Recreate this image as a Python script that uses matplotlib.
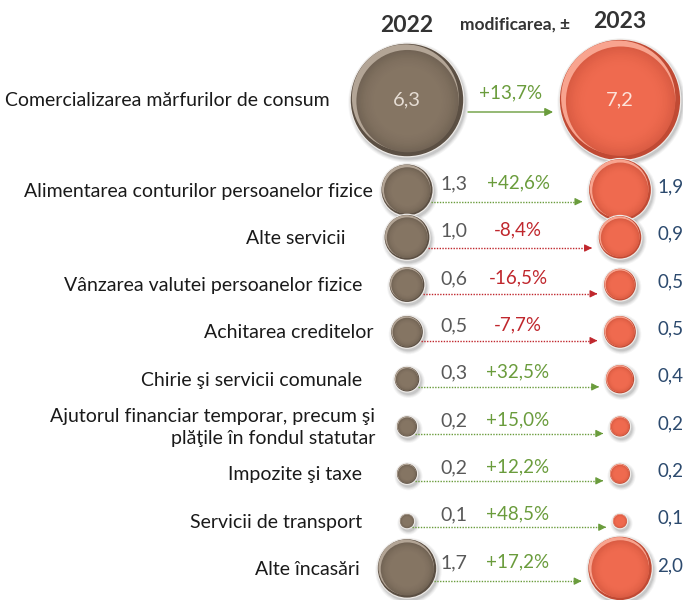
import matplotlib
matplotlib.use('Agg')
import matplotlib.pyplot as plt
from matplotlib.patches import Circle
import numpy as np

plt.rcParams['font.family'] = ['Lato', 'DejaVu Sans']

# data
categories = ['Comercializarea mărfurilor de consum',
              'Alimentarea conturilor persoanelor fizice',
              'Alte servicii',
              'Vânzarea valutei persoanelor fizice',
              'Achitarea creditelor',
              'Chirie şi servicii comunale',
              'Ajutorul financiar temporar, precum şi\nplăţile în fondul statutar',
              'Impozite şi taxe',
              'Servicii de transport',
              'Alte încasări']
val_2022 = [6.3, 1.3, 1.0, 0.6, 0.5, 0.3, 0.2, 0.2, 0.1, 1.7]
val_2023 = [7.2, 1.9, 0.9, 0.5, 0.5, 0.4, 0.2, 0.2, 0.1, 2.0]
change = [13.7, 42.6, -8.4, -16.5, -7.7, 32.5, 15.0, 12.2, 48.5, 17.2]

# colours
brown = ('#857563', '#5b4f43', '#b3a596')
red = ('#ef6a4f', '#c04a34', '#f8a48f')
green = '#6a9c3c'
darkred = '#c0272d'
grey_txt = '#595959'
blue_txt = '#2c4a6e'

# layout (pixels)
x22, x23 = 407, 620
row_y = [100] + list(190 + 47.3 * np.arange(9))
label_right = [330, 373, 345, 362, 373, 362, 375, 362, 362, 360]
k = 22.4  # radius per sqrt(value)

fig = plt.figure(figsize=(6.83, 6.0), dpi=100)
ax = fig.add_axes([0, 0, 1, 1])
ax.set_xlim(0, 683)
ax.set_ylim(600, 0)
ax.axis('off')


def bubble(x, y, r, col):
    base, dark, light = col
    for i, a in enumerate([0.05, 0.07, 0.09, 0.11]):
        ax.add_patch(Circle((x + 1.5, y + 2.5), r + 4 - i, color='#404040', alpha=a, lw=0, zorder=2))
    ax.add_patch(Circle((x, y), r + 1.2, color='#eeebe8', lw=0, zorder=3))
    ax.add_patch(Circle((x, y), r, color=dark, lw=0, zorder=3))
    ax.add_patch(Circle((x - 0.03 * r, y - 0.04 * r), r * 0.95, color=light, lw=0, zorder=3))
    cd = np.array(matplotlib.colors.to_rgb(dark))
    cb = np.array(matplotlib.colors.to_rgb(base))
    n = 14
    for i in range(n):
        t = i / (n - 1)
        rr = r * (0.91 - 0.35 * t)
        w = 0.45 * (1 - t) ** 2
        ax.add_patch(Circle((x + 0.01 * r, y + 0.02 * r), rr, color=cd * w + cb * (1 - w), lw=0, zorder=3))


for i, cat in enumerate(categories):
    y = row_y[i]
    r1 = k * np.sqrt(val_2022[i])
    r2 = k * np.sqrt(val_2023[i])
    bubble(x22, y, r1, brown)
    bubble(x23, y, r2, red)
    ccol = green if change[i] > 0 else darkred
    pct = f'{change[i]:+.1f}%'.replace('.', ',')
    ax.text(label_right[i], y + 1, cat, ha='right', va='center', fontsize=14,
            color='#1a1a1a', linespacing=1.3)
    if i == 0:
        ax.text(x22, y, f'{val_2022[i]:.1f}'.replace('.', ','), ha='center', va='center',
                fontsize=14.5, color='#e6ddd4', zorder=5)
        ax.text(x23, y, f'{val_2023[i]:.1f}'.replace('.', ','), ha='center', va='center',
                fontsize=14.5, color='#fde3da', zorder=5)
        ax.text(511, y - 7, pct, ha='center', va='center', fontsize=13.5, color=ccol)
        ax.annotate('', xy=(x23 - r2 - 4, y + 12), xytext=(x22 + r1 + 2, y + 12),
                    arrowprops=dict(arrowstyle='-|>', color=ccol, lw=1, mutation_scale=12))
        continue
    ya = y + 0.3 * r1 + 4
    xs = x22 + np.sqrt(max(r1 ** 2 - (ya - y) ** 2, 0)) + 1
    xe = x23 - r2 - 4
    ax.plot([xs, xe - 6], [ya, ya], color=ccol, lw=1, linestyle=(0, (1, 1)), zorder=4)
    ax.annotate('', xy=(xe, ya), xytext=(xe - 7, ya),
                arrowprops=dict(arrowstyle='-|>', color=ccol, lw=0.8, mutation_scale=11), zorder=4)
    ax.text(440, y - 6, f'{val_2022[i]:.1f}'.replace('.', ','), ha='left', va='center',
            fontsize=14, color=grey_txt, zorder=5)
    ax.text(518, y - 7, pct, ha='center', va='center', fontsize=13.5, color=ccol, zorder=5)
    ax.text(657, y - 3, f'{val_2023[i]:.1f}'.replace('.', ','), ha='left', va='center',
            fontsize=13.5, color=blue_txt, zorder=5)

# headings
ax.text(x22, 25, '2022', ha='center', va='center', fontsize=16.5, fontweight='bold', color='#333333')
ax.text(515, 25, 'modificarea, ±', ha='center', va='center', fontsize=12.5, fontweight='bold', color='#333333')
ax.text(x23, 22, '2023', ha='center', va='center', fontsize=16.5, fontweight='bold', color='#333333')

fig.savefig('out.png', dpi=100)
